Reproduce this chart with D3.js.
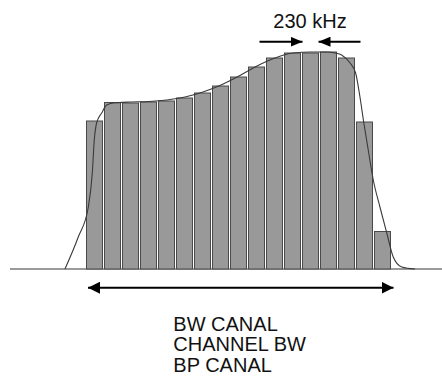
<!DOCTYPE html>
<html>
<head>
<meta charset="utf-8">
<script src="https://cdn.jsdelivr.net/npm/d3@7"></script>
<style>
  html, body { margin: 0; padding: 0; background: #fff; }
  svg { display: block; }
  text { font-family: "Liberation Sans", Arial, sans-serif; fill: #111; }
</style>
</head>
<body>
<script>
// ---- data ----
const channels = d3.range(17);                       // 17 sub-carrier bins
const binLevels = [148, 166.5, 166, 167, 168, 171, 176, 183, 192, 202, 211, 216, 216, 217, 211, 147, 37.5];
// spectral envelope (x in bin units, y in level units)
const envX = [-1.17, -0.43, 0.13, 0.35, 0.46, 0.59, 0.87, 1.15, 1.52, 2.5, 3.5, 4.5, 5.5, 6.5, 7.5, 8.5, 9.5, 10.5, 11.5, 12.5, 13.4, 13.83, 14.2, 14.67, 14.98, 15.22, 15.41, 15.68, 15.96, 16.33, 16.71, 17.07, 17.54, 18.28];
const envY = [0, 32, 62, 96, 129, 146, 156, 164, 166, 167, 167.5, 169, 172, 177, 184, 193, 203, 211, 216, 217, 217, 216, 214, 206, 196, 172, 149, 119, 89, 62, 36, 12, 2, 0];
const binLabel = "230 kHz";
const markedBin = 12;
const bwLabels = ["BW CANAL", "CHANNEL BW", "BP CANAL"];

// ---- layout ----
const W = 442, H = 376;
const svg = d3.select("body").append("svg").attr("width", W).attr("height", H);

const x = d3.scaleLinear().domain([0, 17]).range([86, 392]);
const y = d3.scaleLinear().domain([0, 217]).range([269, 52]);

// baseline
svg.append("line")
  .attr("x1", 10).attr("x2", W)
  .attr("y1", y(0)).attr("y2", y(0))
  .attr("stroke", "#7a7a7a").attr("stroke-width", 1.5);

// bars
svg.append("g").selectAll("rect").data(channels).join("rect")
  .attr("x", i => x(i) + 0.5)
  .attr("width", i => x(i + 1) - x(i) - 2)
  .attr("y", i => y(binLevels[i]))
  .attr("height", i => y(0) - y(binLevels[i]))
  .attr("fill", "#999999")
  .attr("stroke", "#4a4a4a")
  .attr("stroke-width", 1);

// envelope
const line = d3.line().x(d => x(d[0])).y(d => y(d[1])).curve(d3.curveMonotoneX);
svg.append("path")
  .datum(envX.map((v, i) => [v, envY[i]]))
  .attr("d", line)
  .attr("fill", "none")
  .attr("stroke", "#3a3a3a")
  .attr("stroke-width", 1.1);

// arrow heads
const defs = svg.append("defs");
defs.append("marker")
  .attr("id", "ah").attr("viewBox", "0 0 12 10")
  .attr("refX", 12).attr("refY", 5)
  .attr("markerWidth", 12).attr("markerHeight", 10)
  .attr("markerUnits", "userSpaceOnUse")
  .attr("orient", "auto-start-reverse")
  .append("path").attr("d", "M0,0 L12,5 L0,10 Z").attr("fill", "#000");

// 230 kHz arrows
const ay = 41.7;
const leftTip = x(markedBin) + 0.5, rightTip = x(markedBin + 1) - 1.5;
svg.append("line")
  .attr("x1", leftTip - 43).attr("x2", leftTip)
  .attr("y1", ay).attr("y2", ay)
  .attr("stroke", "#000").attr("stroke-width", 2)
  .attr("marker-end", "url(#ah)");
svg.append("line")
  .attr("x1", rightTip + 42).attr("x2", rightTip)
  .attr("y1", ay).attr("y2", ay)
  .attr("stroke", "#000").attr("stroke-width", 2)
  .attr("marker-end", "url(#ah)");
svg.append("text")
  .attr("x", x(markedBin + 0.5) - 1).attr("y", 28.3)
  .attr("text-anchor", "middle")
  .attr("font-size", 20)
  .text(binLabel);

// channel bandwidth arrow
const by = 287.7;
defs.append("marker")
  .attr("id", "ah2").attr("viewBox", "0 0 12 12")
  .attr("refX", 12).attr("refY", 6)
  .attr("markerWidth", 12).attr("markerHeight", 12)
  .attr("markerUnits", "userSpaceOnUse")
  .attr("orient", "auto-start-reverse")
  .append("path").attr("d", "M0,0 L12,6 L0,12 Z").attr("fill", "#000");
svg.append("line")
  .attr("x1", x(0) + 2).attr("x2", x(17) + 1.5)
  .attr("y1", by).attr("y2", by)
  .attr("stroke", "#000").attr("stroke-width", 2)
  .attr("marker-start", "url(#ah2)")
  .attr("marker-end", "url(#ah2)");

svg.append("g").selectAll("text").data(bwLabels).join("text")
  .attr("x", 173.3)
  .attr("y", (d, i) => 330.5 + i * 20.5)
  .attr("font-size", 20)
  .text(d => d);
</script>
</body>
</html>
